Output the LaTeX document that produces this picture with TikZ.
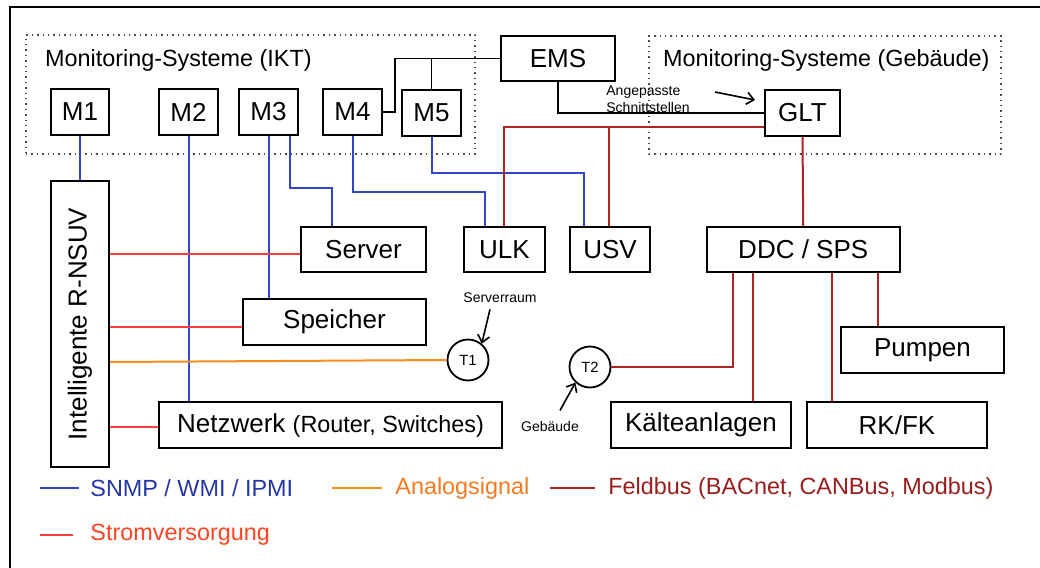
\documentclass[tikz,border=0pt]{standalone}
\usepackage{fontspec}
\setmainfont{Liberation Sans}
\usetikzlibrary{arrows.meta,calc}

\definecolor{snmpline}{HTML}{3344CC}
\definecolor{snmptext}{HTML}{2636A8}
\definecolor{anaorange}{HTML}{FF8C1A}
\definecolor{anatext}{HTML}{F57A1F}
\definecolor{feldred}{HTML}{B22222}
\definecolor{feldtext}{HTML}{9B1C1C}
\definecolor{stromred}{HTML}{FF4040}
\definecolor{stromtext}{HTML}{FF4422}

\begin{document}
\begin{tikzpicture}[x=0.5pt,y=-0.5pt,
  box/.style={draw, line width=1pt, fill=white, inner sep=0pt,
    font=\fontsize{13}{15}\selectfont},
  sensor/.style={draw, circle, line width=0.9pt, fill=white, inner sep=0pt,
    minimum size=20.5pt, font=\fontsize{7.4}{9}\selectfont},
  groupbox/.style={draw=black!70, dotted, line width=0.7pt, inner sep=0pt},
  grouptitle/.style={anchor=west, font=\fontsize{11.7}{14}\selectfont},
  note/.style={font=\fontsize{7}{8.5}\selectfont, inner sep=0pt},
  pointer/.style={line width=0.8pt, -{Straight Barb[length=3.5pt,width=6pt]}},
  plain/.style={line width=0.9pt},
  snmp/.style={snmpline, line width=1pt},
  analog/.style={anaorange, line width=1pt},
  feld/.style={feldred, line width=1pt},
  strom/.style={stromred, line width=1pt},
  legendtext/.style={anchor=west, inner sep=0pt, font=\fontsize{11.7}{14}\selectfont}]

\useasboundingbox (0,0) rectangle (1040,568);

% frame
\coordinate (frameBL) at (10,575);
\coordinate (frameTL) at (10,7);
\coordinate (frameTR) at (1045,7);
\draw[line width=1pt] (frameBL) -- (frameTL) -- (frameTR);

% monitoring groups
\node[groupbox, minimum width=224.5pt, minimum height=59.5pt] (ikt) at (250.5,94.5) {};
\node[grouptitle] (iktTitle) at (38,60) {Monitoring-Systeme (IKT)};
\node[groupbox, minimum width=176pt, minimum height=59pt] (geb) at (825,95) {};
\node[grouptitle] (gebTitle) at (656,60) {Monitoring-Systeme (Gebäude)};

% monitoring systems
\node[box, minimum width=29pt, minimum height=23pt] (M1) at (80,112) {M1};
\node[box, minimum width=29.5pt, minimum height=23pt] (M2) at (188.5,112) {M2};
\node[box, minimum width=29.5pt, minimum height=23pt] (M3) at (268.5,112) {M3};
\node[box, minimum width=29.5pt, minimum height=23pt] (M4) at (352.5,112) {M4};
\node[box, minimum width=29.5pt, minimum height=23pt] (M5) at (431.5,113) {M5};
\node[box, minimum width=57pt, minimum height=22.5pt] (EMS) at (558,58.5) {EMS};
\node[box, minimum width=37.5pt, minimum height=23pt] (GLT) at (802.5,113) {GLT};

% equipment
\node[box, rotate=90, minimum width=143pt, minimum height=29pt] (RNSUV) at (80,324) {Intelligente R-NSUV};
\node[box, minimum width=62.5pt, minimum height=22.5pt] (Server) at (363.5,249.5) {Server};
\node[box, minimum width=91.5pt, minimum height=23pt] (Speicher) at (334.5,322) {Speicher};
\node[box, minimum width=171.5pt, minimum height=23pt] (Netz) at (330.5,425)
  {Netzwerk {\fontsize{11.7}{14}\selectfont(Router, Switches)}};
\node[box, minimum width=40.5pt, minimum height=22.5pt] (ULK) at (504.5,249.5) {ULK};
\node[box, minimum width=40pt, minimum height=22.5pt] (USV) at (610,249.5) {USV};
\node[box, minimum width=96.75pt, minimum height=22.5pt] (DDC) at (803.25,249.5) {DDC / SPS};
\node[box, minimum width=81.5pt, minimum height=23pt] (Pumpen) at (922.5,350) {Pumpen};
\node[box, minimum width=90pt, minimum height=23pt] (Kaelte) at (701,425) {Kälteanlagen};
\node[box, minimum width=90pt, minimum height=23pt] (RKFK) at (897,425) {RK/FK};

% temperature sensors
\node[sensor] (T1) at (468,360) {T1};
\node[sensor] (T2) at (590,367) {T2};

% EMS links (black)
\draw[plain] (EMS.west) -| ([xshift=6pt]M4.east) -- (M4.east);
\draw[plain] (M5.north) -- (M5.north |- EMS.west);
\draw[plain] (EMS.south) |- (GLT.west);

% SNMP / WMI / IPMI
\draw[snmp] (M1.south) -- (RNSUV.east);
\draw[snmp] (M2.south) -- (M2.south |- Netz.north);
\draw[snmp] (M3.south) -- (M3.south |- Speicher.north);
\draw[snmp] ([xshift=-4.5pt]M3.south east) -- ++(0,52) -| ([xshift=16pt]Server.north west);
\draw[snmp] (M4.south) -- ++(0,56) -| ([xshift=11pt]ULK.north west);
\draw[snmp] (M5.south) -- ++(0,36) -| ([xshift=7.5pt]USV.north west);

% field bus
\coordinate (gltBus) at ([yshift=-7pt]GLT.west);
\coordinate (usvBus) at ([xshift=20pt]USV.north west);
\draw[feld] (gltBus) -| ([xshift=20.5pt]ULK.north west);
\draw[feld] (usvBus) -- (usvBus |- gltBus);
\draw[feld] (GLT.south) -- (DDC.north);
\draw[feld] ([xshift=13.75pt]DDC.south west) |- (T2.east);
\coordinate (ddcK) at ([xshift=23.5pt]DDC.south west);
\draw[feld] (ddcK) -- (ddcK |- Kaelte.north);
\coordinate (ddcR) at ([xshift=63.25pt]DDC.south west);
\draw[feld] (ddcR) -- (ddcR |- RKFK.north);
\coordinate (ddcP) at ([xshift=86.25pt]DDC.south west);
\draw[feld] (ddcP) -- (ddcP |- Pumpen.north);

% power supply
\coordinate (pwServer) at ([yshift=-2pt]Server.west);
\coordinate (pwSpeicher) at ([yshift=-2.5pt]Speicher.west);
\coordinate (pwNetz) at ([yshift=-1pt]Netz.west);
\draw[strom] (pwServer -| RNSUV.south) -- (pwServer);
\draw[strom] (pwSpeicher -| RNSUV.south) -- (pwSpeicher);
\draw[strom] (pwNetz -| RNSUV.south) -- (pwNetz);

% analog signal
\draw[analog] ([yshift=-1pt]T1.west -| RNSUV.south) -- (T1.west);

% annotations
\node[note, anchor=west, align=left] (angep) at (606,99.5) {Angepasste\\Schnittstellen};
\draw[pointer] ([xshift=12.5pt,yshift=3.75pt]angep.east) -- ([xshift=-4.5pt,yshift=6.5pt]GLT.west);
\node[note] (srvraum) at (500,298) {Serverraum};
\draw[pointer] ([xshift=-5pt,yshift=-3pt]srvraum.south) -- (T1.50);
\node[note] (gebaeude) at (550,426) {Gebäude};
\draw[pointer] ([xshift=5pt,yshift=5pt]gebaeude.north) -- (T2.227);

% legend
\coordinate (lgSa) at (40,488);  \coordinate (lgSb) at (79,488);
\draw[snmp] (lgSa) -- (lgSb);
\node[legendtext, text=snmptext] (lgS) at (90,488) {SNMP / WMI / IPMI};
\coordinate (lgAa) at (332,488); \coordinate (lgAb) at (382,488);
\draw[analog] (lgAa) -- (lgAb);
\node[legendtext, text=anatext] (lgA) at (395,488) {Analogsignal};
\coordinate (lgFa) at (550,488); \coordinate (lgFb) at (595,488);
\draw[feld] (lgFa) -- (lgFb);
\node[legendtext, text=feldtext] (lgF) at (608,488) {Feldbus (BACnet, CANBus, Modbus)};
\coordinate (lgPa) at (40,535);  \coordinate (lgPb) at (73,535);
\draw[strom] (lgPa) -- (lgPb);
\node[legendtext, text=stromtext] (lgP) at (90,535) {Stromversorgung};

\end{tikzpicture}
\end{document}
